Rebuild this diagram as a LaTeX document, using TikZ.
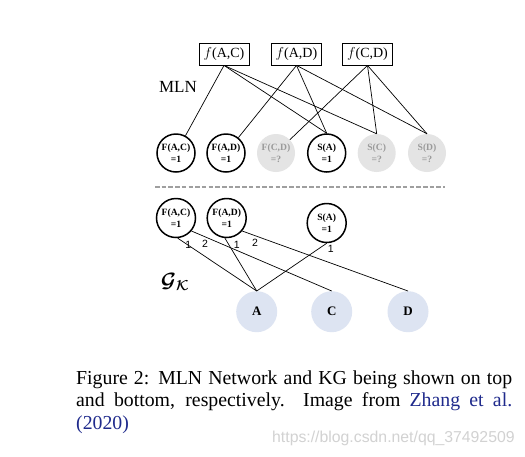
\documentclass[tikz,border=0pt]{standalone}
\usepackage{fontspec}
\usepackage{bm}
\setmainfont{Liberation Serif}
\newfontfamily\arialf{Liberation Sans}
\definecolor{ggray}{HTML}{E4E4E4}
\definecolor{gtext}{HTML}{9A9A9A}
\definecolor{entblue}{HTML}{DDE4F2}
\definecolor{citeblue}{HTML}{1F2A8C}
\definecolor{wmark}{HTML}{D2D2D2}
\begin{document}
\begin{tikzpicture}[x=1pt,y=-1pt,
  fnode/.style={draw, line width=0.8pt, minimum width=50pt, minimum height=22pt, inner sep=0pt, font=\fontsize{14}{16}\selectfont},
  known/.style={circle, draw, line width=1.5pt, minimum size=38pt, inner sep=0pt, align=center, font=\bfseries\fontsize{9.6}{11.5}\selectfont},
  unknown/.style={circle, fill=ggray, minimum size=38pt, inner sep=0pt, align=center, text=gtext, font=\bfseries\fontsize{9.6}{11.5}\selectfont},
  ent/.style={circle, fill=entblue, minimum size=41pt, inner sep=0pt, font=\bfseries\fontsize{13}{15}\selectfont},
  link/.style={line width=0.7pt},
  num/.style={font=\arialf\fontsize{10.5}{12}\selectfont, inner sep=0pt},
  gklabel/.style={inner sep=0pt, font=\fontsize{20}{22}\selectfont},
  captext/.style={anchor=base west, inner sep=0pt, font=\fontsize{19.8}{22}\selectfont}]
\useasboundingbox (0,0) rectangle (525,456);
\fill[white] (0,0) rectangle (525,456);
% factor boxes
\node[fnode] (fAC) at (224,54) {$f$(A,C)};
\node[fnode] (fAD) at (296.5,54) {$f$(A,D)};
\node[fnode] (fCD) at (367.5,54) {$f$(C,D)};
\node[font=\fontsize{17}{19}\selectfont, inner sep=0pt] (mln) at (178,87) {MLN};
% MLN variables
\node[known] (FAC) at (176,153) {F(A,C)\\=1};
\node[known] (FAD) at (226,153) {F(A,D)\\=1};
\node[unknown] (FCD) at (276,153) {F(C,D)\\=?};
\node[known] (SA) at (326.7,153) {S(A)\\=1};
\node[unknown] (SC) at (376.7,153) {S(C)\\=?};
\node[unknown] (SD) at (427,153) {S(D)\\=?};
\draw[link] (fAC.south) -- (FAC);
\draw[link] (fAC.south) -- (SA.north);
\draw[link] (fAC.south) -- (SC.north);
\draw[link] (fAD.south) -- (FAD);
\draw[link] (fAD.south) -- (SA.north);
\draw[link] (fAD.south) -- (SD.north);
\draw[link] (fCD.south) -- (FCD);
\draw[link] (fCD.south) -- (SC.north);
\draw[link] (fCD.south) -- (SD.north);
% separator
\coordinate (sepL) at (155,186.7);
\coordinate (sepR) at (445,186.7);
\draw[gray!75, line width=1.6pt, dash pattern=on 4.5pt off 2.2pt] (sepL) -- (sepR);
% KG
\node[known, minimum size=39pt] (FAC2) at (176,218) {F(A,C)\\=1};
\node[known, minimum size=39pt] (FAD2) at (226.7,218) {F(A,D)\\=1};
\node[known, minimum size=39pt] (SA2) at (326.7,223) {S(A)\\=1};
\node[ent] (A) at (256.7,311.7) {A};
\node[ent] (C) at (331.7,311.7) {C};
\node[ent] (D) at (408,311.7) {D};
\draw[link] (FAC2.-85) -- (A.north);
\draw[link] (FAC2.-40) -- (C.north);
\draw[link] (FAD2.-95) -- (A.north);
\draw[link] (FAD2.-40) -- (D.north);
\draw[link] (SA2.south) -- (A.north);
\node[num] (l1) at (188.3,245) {1};
\node[num] (l2) at (205,244) {2};
\node[num] (l3) at (236.7,245) {1};
\node[num] (l4) at (255,242.7) {2};
\node[num] (l5) at (330.7,249.3) {1};
\node[gklabel] (gk) at (175,282) {$\bm{\mathcal{G}}_{\bm{\mathcal{K}}}$};
% caption
\node[captext] (c1) at (76,384.3) {\makebox[436pt][s]{Figure 2: MLN Network and KG being shown on top}};
\node[captext] (c2) at (76,406.7) {\makebox[436pt][s]{and bottom, respectively.\ \ Image from \textcolor{citeblue}{Zhang et al.}}};
\node[captext] (c3) at (76,429) {\textcolor{citeblue}{(2020)}};
\node[anchor=base west, inner sep=0pt, text=wmark, font=\arialf\fontsize{15.8}{17}\selectfont] (wm) at (272,442) {https://blog.csdn.net/qq\_37492509};
\end{tikzpicture}
\end{document}
